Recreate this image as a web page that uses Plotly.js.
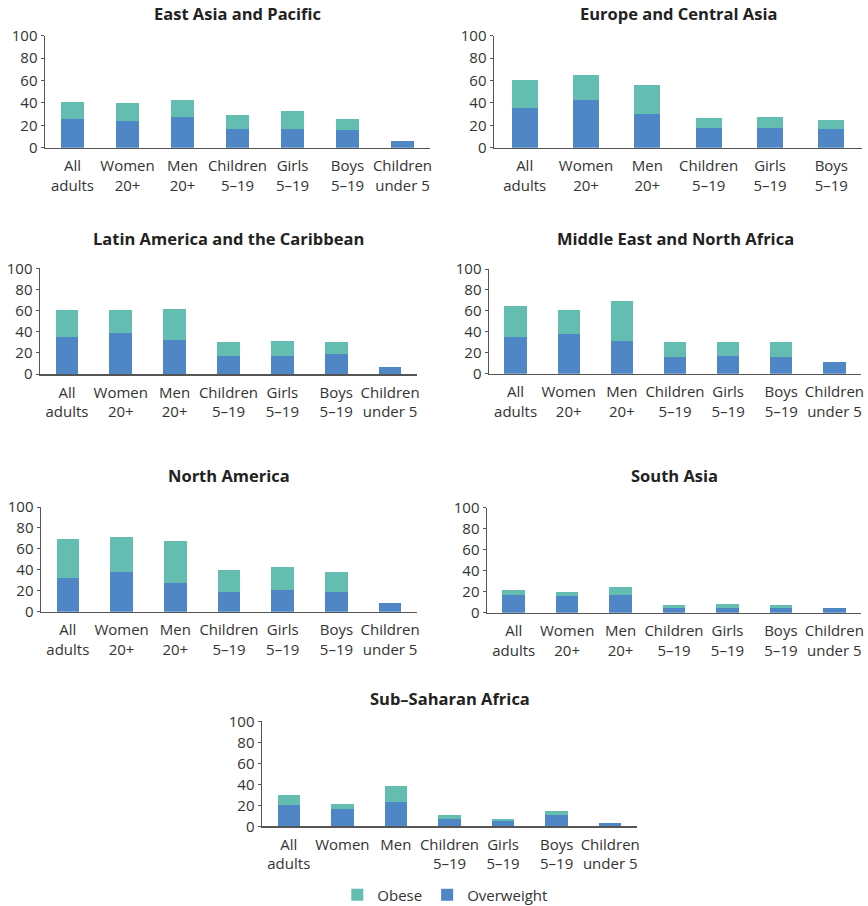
<!DOCTYPE html>
<html>
<head>
<meta charset="utf-8">
<script src="https://cdn.plot.ly/plotly-3.0.1.min.js"></script>
<style>html,body{margin:0;padding:0;background:#fff;}#chart{width:868px;height:906px;}</style>
</head>
<body>
<div id="chart"></div>
<script>
// Categories
const categories = ["All<br>adults", "Women<br>20+", "Men<br>20+", "Children<br>5–19", "Girls<br>5–19", "Boys<br>5–19", "Children<br>under 5"];
const categoriesECA = ["All<br>adults", "Women<br>20+", "Men<br>20+", "Children<br>5–19", "Girls<br>5–19", "Boys<br>5–19"];
const categoriesSSA = ["All<br>adults", "Women", "Men", "Children<br>5–19", "Girls<br>5–19", "Boys<br>5–19", "Children<br>under 5"];

const regionTitles = ["East Asia and Pacific", "Europe and Central Asia", "Latin America and the Caribbean",
  "Middle East and North Africa", "North America", "South Asia", "Sub–Saharan Africa"];

// Overweight (blue, bottom) and Obese (teal, stacked on top), percent
const overweightEAP = [25.5, 24, 27.5, 17, 17, 16, 6];
const obeseEAP      = [15.5, 16, 15, 12.5, 16, 10, 0];
const overweightECA = [35.5, 42.5, 30, 18, 18, 16.5];
const obeseECA      = [25, 22.5, 26, 8.5, 9.5, 8];
const overweightLAC = [35, 39, 32, 17, 17, 19, 6.5];
const obeseLAC      = [25.5, 21.5, 29.5, 13, 14, 11, 0];
const overweightMENA = [35, 38, 31, 16, 17, 16, 11];
const obeseMENA      = [29.5, 23, 38.5, 14, 13, 14, 0];
const overweightNA = [32, 38, 27.5, 19, 21, 19, 8];
const obeseNA      = [37.5, 33.5, 40, 21, 22, 19, 0];
const overweightSA = [17, 16, 17, 4.5, 4.5, 4.5, 4.5];
const obeseSA      = [4.5, 4, 7.5, 3, 4, 3, 0];
const overweightSSA = [20, 16.5, 23, 7, 5, 11, 3];
const obeseSSA      = [10, 5, 15.5, 4, 2, 4, 0];

const yTicks = [0, 20, 40, 60, 80, 100];

const colorOverweight = "#4f86c6";
const colorObese = "#63bdb1";
const FONT = "Open Sans, Noto Sans, sans-serif";

const W = 868, H = 906;
// pixel layout of each panel: [left, right, yZero, yHundred, titleY]
const panels = [
  {cats: categories,    ow: overweightEAP,  ob: obeseEAP,  box: [45, 430, 147.7, 35.7, 14]},
  {cats: categoriesECA, ow: overweightECA,  ob: obeseECA,  box: [494, 862, 147.7, 35.7, 14]},
  {cats: categories,    ow: overweightLAC,  ob: obeseLAC,  box: [40, 417, 374, 268.3, 238]},
  {cats: categories,    ow: overweightMENA, ob: obeseMENA, box: [489, 861, 373.7, 269, 238]},
  {cats: categories,    ow: overweightNA,   ob: obeseNA,   box: [41, 417, 611.7, 507, 475]},
  {cats: categories,    ow: overweightSA,   ob: obeseSA,   box: [487, 861, 612.7, 507.7, 475]},
  {cats: categoriesSSA, ow: overweightSSA,  ob: obeseSSA,  box: [262, 637, 826.3, 721.3, 698]}
];

const data = [];
const layout = {
  width: W, height: H,
  margin: {l: 0, r: 0, t: 0, b: 0, autoexpand: false},
  paper_bgcolor: "#fff", plot_bgcolor: "#fff",
  barmode: "stack",
  bargap: 0.58,
  font: {family: FONT, size: 15, color: "#333"},
  showlegend: true,
  legend: {orientation: "h", x: 0.513, xanchor: "center", y: 1 - 895 / H, yanchor: "middle",
           traceorder: "reversed", font: {family: FONT, size: 15, color: "#333"}, itemwidth: 30},
  annotations: []
};

panels.forEach((p, i) => {
  const n = i + 1;
  const xa = n === 1 ? "x" : "x" + n;
  const ya = n === 1 ? "y" : "y" + n;
  const [l, r, y0, y100, ty] = p.box;
  data.push({type: "bar", x: p.cats, y: p.ow, name: "Overweight", xaxis: xa, yaxis: ya,
             marker: {color: colorOverweight}, showlegend: i === 0, legendgroup: "ow", hoverinfo: "skip"});
  data.push({type: "bar", x: p.cats, y: p.ob, name: "Obese", xaxis: xa, yaxis: ya,
             marker: {color: colorObese}, showlegend: i === 0, legendgroup: "ob", hoverinfo: "skip"});
  layout["xaxis" + (n === 1 ? "" : n)] = {
    domain: [l / W, r / W], anchor: ya, type: "category",
    showline: true, linecolor: "#555", linewidth: 1.5, ticks: "", showgrid: false,
    tickangle: 0, ticklabelstandoff: 4, tickfont: {family: FONT, size: 15, color: "#333"}, fixedrange: true
  };
  layout["yaxis" + (n === 1 ? "" : n)] = {
    domain: [1 - y0 / H, 1 - y100 / H], anchor: xa, range: [0, 100],
    tickvals: yTicks, ticktext: yTicks.map(String),
    showline: true, linecolor: "#555", linewidth: 1.5, ticks: "outside", ticklen: 3, tickcolor: "#555",
    showgrid: false, zeroline: false, tickfont: {family: FONT, size: 15, color: "#333"}, fixedrange: true
  };
  layout.annotations.push({
    text: "<b>" + regionTitles[i] + "</b>", xref: "paper", yref: "paper",
    x: (l + r) / 2 / W, y: 1 - ty / H, xanchor: "center", yanchor: "middle", showarrow: false,
    font: {family: FONT, size: 16.5, color: "#222"}
  });
});

Plotly.newPlot("chart", data, layout, {displayModeBar: false, staticPlot: true});
</script>
</body>
</html>
